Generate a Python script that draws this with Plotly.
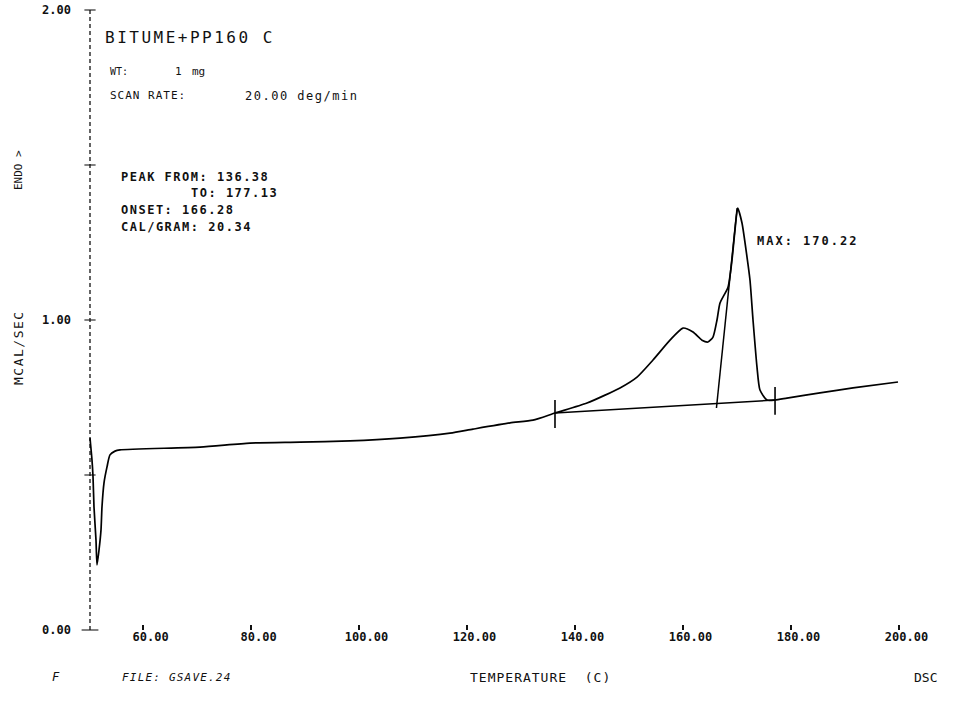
import plotly.graph_objects as go

# ---- DSC scan: BITUME+PP160 C, heat flow vs temperature ----
temperature_c = [50.27, 50.64, 50.83, 51.01, 51.38, 51.57, 51.94, 52.31, 52.49, 52.86,
                 53.42, 53.97, 54.90, 55.82, 70.64, 79.90, 89.16, 98.42, 107.68, 116.94,
                 121.20, 128.05, 132.31, 136.38, 142.31, 148.42, 151.57, 154.53, 157.68,
                 160.08, 161.94, 163.60, 164.71, 165.64, 166.38, 166.94, 168.42, 169.16,
                 169.71, 170.22, 171.01, 171.94, 172.49, 173.05, 173.79, 174.34, 175.64,
                 177.13, 179.34, 185.45, 191.57, 199.90]
heat_flow_mcal_s = [0.619, 0.548, 0.494, 0.397, 0.290, 0.210, 0.258, 0.323, 0.397, 0.474,
                    0.526, 0.565, 0.577, 0.581, 0.590, 0.603, 0.606, 0.610, 0.619, 0.635,
                    0.648, 0.668, 0.677, 0.700, 0.732, 0.781, 0.816, 0.871, 0.935,
                    0.974, 0.961, 0.935, 0.929, 0.945, 1.000, 1.055, 1.106, 1.194,
                    1.290, 1.361, 1.313, 1.203, 1.129, 1.000, 0.848, 0.774, 0.742,
                    0.742, 0.748, 0.765, 0.781, 0.800]

# integration baseline and onset tangent
peak_from, peak_to = 136.38, 177.13
baseline_t = [peak_from, peak_to]
baseline_v = [0.700, 0.742]
onset_t = [166.28, 170.10]
onset_v = [0.716, 1.361]
# limit markers at both ends of the integration range
limit_t = [peak_from, peak_from, None, peak_to, peak_to]
limit_v = [0.652, 0.742, None, 0.694, 0.784]

x_ticks = [60, 80, 100, 120, 140, 160, 180, 200]
y_ticks = [0.0, 1.0, 2.0]
y_marks = [0.0, 0.5, 1.0, 1.5, 2.0]

# ---- layout geometry (px) ----
W, H = 955, 701
L, R, T, B = 86, 952, 5, 630
PX_PER_C = 5.4
PX_PER_UNIT = 310.0
x0 = 49.53
x_range = [x0, x0 + (R - L) / PX_PER_C]
y_range = [0.0, (B - T) / PX_PER_UNIT]
axis_t = 50.27

MONO = "DejaVu Sans Mono"
INK = "#111111"


def px(xp):
    return (xp - L) / (R - L)


def py(yp):
    return (B - yp) / (B - T)


fig = go.Figure()

# dotted vertical heat-flow axis
fig.add_trace(go.Scatter(x=[axis_t, axis_t], y=[0, 2.0], mode="lines",
                         line=dict(color=INK, width=1.3, dash="4px,3px"),
                         hoverinfo="skip", showlegend=False))
# crossing tick marks on the axis
fig.add_trace(go.Scatter(x=[axis_t] * len(y_marks), y=y_marks, mode="markers",
                         marker=dict(symbol="line-ew", size=[12, 8, 8, 8, 8],
                                     line=dict(color=INK, width=1.5)),
                         cliponaxis=False, hoverinfo="skip", showlegend=False))

fig.add_trace(go.Scatter(x=temperature_c, y=heat_flow_mcal_s, mode="lines",
                         line=dict(color="#000000", width=1.7, shape="spline", smoothing=0.6),
                         showlegend=False))
fig.add_trace(go.Scatter(x=baseline_t, y=baseline_v, mode="lines",
                         line=dict(color="#000000", width=1.5), showlegend=False))
fig.add_trace(go.Scatter(x=onset_t, y=onset_v, mode="lines",
                         line=dict(color="#000000", width=1.5), showlegend=False))
fig.add_trace(go.Scatter(x=limit_t, y=limit_v, mode="lines",
                         line=dict(color="#000000", width=1.6), showlegend=False))


def ann(text, xp, yp, size=12, anchor="left", angle=0, italic=False, spacing=0, bold=False):
    if spacing:
        text = f'<span style="letter-spacing:{spacing}px">{text}</span>'
    if italic:
        text = f"<i>{text}</i>"
    fig.add_annotation(text=text, x=px(xp), y=py(yp), xref="paper", yref="paper",
                       xanchor=anchor, yanchor="middle", showarrow=False, textangle=angle,
                       font=dict(family=MONO, size=size, color=INK,
                                 weight="bold" if bold else "normal"))


ann("BITUME+PP160 C", 103, 37, size=16, spacing=2.5)
ann("WT:", 108, 72, size=10)
ann("1", 173, 72, size=11)
ann("mg", 190, 72, size=11)
ann("SCAN RATE:", 108, 96, size=11, spacing=1)
ann("20.00 deg/min", 243, 96, size=12, spacing=1.5)
ann("PEAK FROM: 136.38", 119, 177, size=12, spacing=1.5, bold=True)
ann("TO: 177.13", 280, 193, size=12, anchor="right", spacing=1.5, bold=True)
ann("ONSET: 166.28", 119, 210, size=12, spacing=1.5, bold=True)
ann("CAL/GRAM: 20.34", 119, 227, size=12, spacing=1.5, bold=True)
ann("MAX: 170.22", 755, 241, size=12, spacing=2, bold=True)
ann("ENDO >", 18, 170, size=11, anchor="center", angle=-90)
ann("MCAL/SEC", 18, 348, size=13, anchor="center", angle=-90, spacing=1.5)
ann("F", 50, 677, size=12, italic=True)
ann("FILE: GSAVE.24", 120, 677, size=11, italic=True, spacing=1.2)
ann("TEMPERATURE  (C)", 468, 677, size=13, spacing=1)
ann("DSC", 912, 677, size=13)

fig.update_layout(
    width=W, height=H,
    margin=dict(l=L, r=W - R, t=T, b=H - B),
    paper_bgcolor="white", plot_bgcolor="white",
    xaxis=dict(range=x_range, tickvals=x_ticks, tickformat=".2f",
               ticks="inside", ticklen=5, tickwidth=1.5, tickcolor=INK,
               ticklabelshift=8, ticklabelstandoff=-2,
               showgrid=False, zeroline=False, showline=False,
               tickfont=dict(family=MONO, size=12, color=INK, weight="bold")),
    yaxis=dict(range=y_range, tickvals=y_ticks, tickformat=".2f",
               ticks="", ticklabelstandoff=14,
               showgrid=False, zeroline=False, showline=False,
               tickfont=dict(family=MONO, size=12, color=INK, weight="bold")),
)

fig.write_html("out.html")
